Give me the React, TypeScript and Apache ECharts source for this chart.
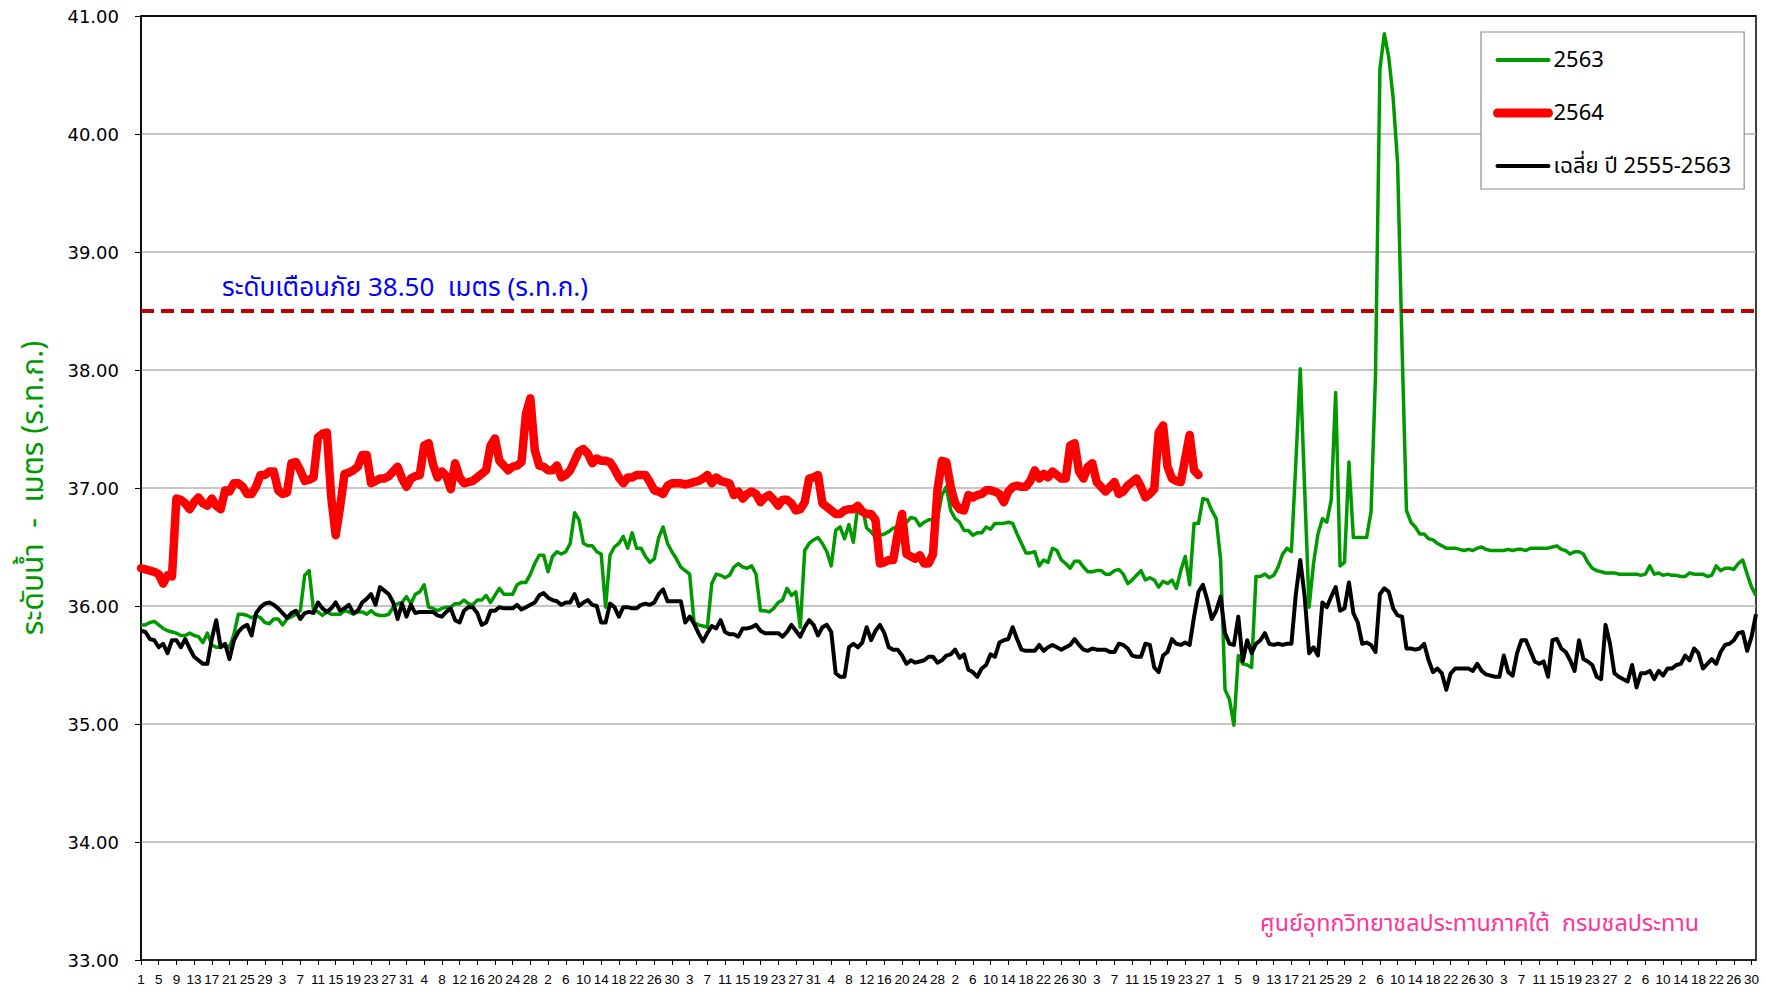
import React, { useEffect, useRef } from "react";
import * as echarts from "echarts";

// Month lengths, April to March (water year), used for the day-of-month tick labels
const monthDays = [30, 31, 30, 31, 31, 30, 31, 30, 31, 31, 29, 31];
const categories: string[] = monthDays.flatMap((n) =>
  Array.from({ length: n }, (_, i) => String(i + 1))
);

const yTicks = [33, 34, 35, 36, 37, 38, 39, 40, 41];
const warningLevel = 38.5;

// 2563 (green)
const level2563 = [
  35.84,35.84,35.86,35.87,35.84,35.81,35.79,35.78,35.77,35.75,
  35.75,35.77,35.75,35.74,35.69,35.77,35.67,35.65,35.65,35.67,
  35.65,35.76,35.93,35.93,35.92,35.90,35.92,35.90,35.86,35.85,
  35.89,35.89,35.84,35.89,35.91,35.93,35.96,36.26,36.30,35.96,
  35.95,35.92,35.95,35.93,35.93,35.93,35.96,35.95,35.93,35.95,
  35.95,35.93,35.96,35.93,35.92,35.92,35.93,35.99,36.02,36.03,
  36.08,36.02,36.10,36.12,36.18,35.99,35.98,35.96,35.98,35.99,
  35.99,36.02,36.02,36.05,36.02,36.01,36.05,36.05,36.09,36.03,
  36.09,36.15,36.10,36.10,36.10,36.18,36.20,36.20,36.27,36.36,
  36.43,36.43,36.29,36.42,36.46,36.44,36.46,36.53,36.79,36.73,
  36.53,36.51,36.51,36.46,36.44,35.99,36.43,36.50,36.53,36.59,
  36.49,36.62,36.49,36.49,36.42,36.37,36.40,36.58,36.67,36.53,
  36.46,36.40,36.33,36.30,36.27,35.86,35.84,35.83,35.82,36.19,
  36.27,36.26,36.24,36.26,36.33,36.36,36.33,36.32,36.34,36.27,
  35.96,35.96,35.95,35.98,36.03,36.05,36.15,36.09,36.12,35.82,
  36.47,36.53,36.56,36.58,36.53,36.46,36.34,36.64,36.67,36.57,
  36.69,36.54,36.85,36.84,36.66,36.63,36.58,36.60,36.61,36.63,
  36.66,36.67,36.70,36.71,36.75,36.74,36.68,36.71,36.73,36.73,
  36.74,36.94,37.01,36.81,36.74,36.71,36.64,36.64,36.60,36.62,
  36.62,36.67,36.65,36.70,36.70,36.70,36.71,36.70,36.61,36.53,
  36.45,36.45,36.46,36.34,36.39,36.37,36.49,36.47,36.39,36.36,
  36.32,36.38,36.38,36.33,36.29,36.29,36.30,36.30,36.27,36.27,
  36.30,36.31,36.27,36.19,36.22,36.26,36.30,36.22,36.24,36.22,
  36.16,36.21,36.19,36.22,36.15,36.30,36.42,36.18,36.70,36.70,
  36.91,36.90,36.81,36.74,36.39,35.29,35.21,34.99,35.58,35.51,
  35.50,35.48,36.25,36.25,36.27,36.24,36.26,36.33,36.44,36.49,
  36.46,37.21,38.01,36.98,35.99,36.36,36.61,36.74,36.71,36.90,
  37.81,36.34,36.37,37.22,36.58,36.58,36.58,36.58,36.80,37.95,
  40.55,40.85,40.65,40.30,39.75,38.20,36.81,36.71,36.67,36.61,
  36.61,36.57,36.56,36.53,36.51,36.49,36.49,36.49,36.48,36.47,
  36.48,36.47,36.49,36.50,36.48,36.47,36.47,36.47,36.47,36.48,
  36.47,36.48,36.48,36.47,36.49,36.49,36.49,36.49,36.49,36.50,
  36.51,36.48,36.47,36.44,36.46,36.46,36.44,36.37,36.32,36.30,
  36.29,36.28,36.28,36.28,36.27,36.27,36.27,36.27,36.27,36.26,
  36.27,36.34,36.27,36.28,36.26,36.27,36.26,36.26,36.25,36.25,
  36.28,36.27,36.27,36.27,36.25,36.26,36.34,36.30,36.32,36.32,
  36.31,36.36,36.39,36.27,36.16,36.09,
];

// 2564 (red, partial year)
const level2564 = [
  36.32,36.31,36.30,36.29,36.27,36.19,36.26,36.25,36.91,36.90,
  36.87,36.82,36.88,36.92,36.87,36.85,36.91,36.85,36.82,36.98,
  36.97,37.04,37.04,37.01,36.95,36.95,37.01,37.11,37.11,37.14,
  37.14,36.98,36.95,36.96,37.21,37.22,37.15,37.06,37.07,37.09,
  37.43,37.46,37.47,36.92,36.60,36.84,37.12,37.13,37.15,37.18,
  37.28,37.28,37.04,37.06,37.08,37.08,37.10,37.14,37.18,37.08,
  37.01,37.08,37.10,37.11,37.36,37.38,37.20,37.09,37.14,37.10,
  36.99,37.21,37.09,37.04,37.05,37.06,37.09,37.12,37.15,37.36,
  37.42,37.23,37.19,37.15,37.18,37.19,37.22,37.63,37.76,37.32,
  37.19,37.18,37.15,37.15,37.19,37.09,37.11,37.15,37.23,37.31,
  37.33,37.29,37.21,37.25,37.23,37.23,37.22,37.16,37.09,37.04,
  37.09,37.09,37.11,37.11,37.11,37.05,36.98,36.97,36.95,37.02,
  37.04,37.04,37.04,37.03,37.04,37.05,37.06,37.08,37.11,37.04,
  37.09,37.06,37.05,37.04,36.94,36.97,36.91,36.95,36.97,36.95,
  36.88,36.92,36.94,36.90,36.85,36.90,36.90,36.87,36.81,36.82,
  36.88,37.08,37.09,37.11,36.87,36.84,36.81,36.78,36.78,36.81,
  36.82,36.82,36.85,36.80,36.78,36.78,36.73,36.36,36.37,36.39,
  36.39,36.61,36.78,36.44,36.42,36.40,36.43,36.36,36.36,36.44,
  36.98,37.23,37.22,37.01,36.87,36.82,36.81,36.94,36.92,36.94,
  36.95,36.98,36.98,36.97,36.95,36.88,36.97,37.01,37.02,37.01,
  37.01,37.06,37.15,37.08,37.12,37.09,37.14,37.11,37.08,37.08,
  37.36,37.38,37.14,37.08,37.18,37.21,37.05,37.01,36.97,37.01,
  37.05,36.95,36.97,37.02,37.05,37.08,37.01,36.92,36.95,36.99,
  37.47,37.53,37.18,37.08,37.06,37.05,37.25,37.45,37.15,37.11,
];

// Average 2555-2563 (black)
const levelAvg = [
  35.79,35.78,35.72,35.71,35.65,35.68,35.60,35.71,35.71,35.65,
  35.72,35.64,35.57,35.54,35.51,35.51,35.72,35.88,35.65,35.68,
  35.55,35.71,35.78,35.82,35.84,35.75,35.94,35.99,36.02,36.03,
  36.01,35.98,35.94,35.90,35.94,35.96,35.89,35.94,35.95,35.94,
  36.03,35.98,35.95,35.98,36.03,35.96,35.98,36.01,35.94,35.96,
  36.03,36.06,36.10,36.01,36.16,36.13,36.10,36.03,35.89,36.02,
  35.91,36.01,35.94,35.95,35.95,35.95,35.95,35.92,35.91,35.95,
  35.98,35.88,35.86,35.96,35.99,35.99,35.94,35.84,35.86,35.96,
  35.96,35.99,35.98,35.98,35.98,36.01,35.97,35.99,36.01,36.03,
  36.09,36.11,36.07,36.05,36.04,36.01,36.03,36.03,36.10,36.00,
  36.03,36.05,36.01,36.00,35.86,35.86,36.02,35.99,35.91,35.99,
  35.99,35.98,35.98,36.01,36.02,36.01,36.03,36.10,36.14,36.04,
  36.04,36.04,36.04,35.86,35.91,35.85,35.77,35.70,35.77,35.83,
  35.81,35.88,35.78,35.76,35.76,35.74,35.81,35.81,35.82,35.84,
  35.79,35.77,35.77,35.77,35.77,35.74,35.78,35.84,35.79,35.74,
  35.82,35.88,35.84,35.75,35.82,35.84,35.78,35.43,35.40,35.40,
  35.65,35.68,35.65,35.69,35.82,35.71,35.79,35.84,35.77,35.65,
  35.63,35.63,35.58,35.51,35.54,35.52,35.53,35.54,35.57,35.57,
  35.52,35.54,35.58,35.59,35.63,35.56,35.59,35.46,35.44,35.40,
  35.47,35.50,35.59,35.57,35.69,35.71,35.72,35.82,35.72,35.63,
  35.62,35.62,35.62,35.67,35.62,35.65,35.67,35.65,35.63,35.65,
  35.67,35.72,35.67,35.63,35.62,35.64,35.63,35.63,35.63,35.61,
  35.61,35.68,35.67,35.64,35.58,35.57,35.57,35.68,35.67,35.48,
  35.44,35.58,35.61,35.72,35.68,35.67,35.69,35.67,35.91,36.12,
  36.18,36.05,35.89,35.96,36.08,35.77,35.68,35.67,35.91,35.53,
  35.71,35.60,35.68,35.71,35.77,35.68,35.67,35.68,35.67,35.68,
  35.68,36.10,36.39,36.08,35.60,35.65,35.58,36.03,35.99,36.08,
  36.16,35.96,35.98,36.20,35.94,35.86,35.68,35.69,35.67,35.61,
  36.10,36.15,36.12,35.98,35.92,35.91,35.64,35.64,35.63,35.64,
  35.68,35.54,35.44,35.47,35.43,35.29,35.43,35.47,35.47,35.47,
  35.47,35.45,35.51,35.45,35.42,35.41,35.40,35.40,35.58,35.44,
  35.41,35.60,35.71,35.71,35.62,35.53,35.51,35.53,35.40,35.71,
  35.72,35.64,35.61,35.54,35.45,35.71,35.55,35.53,35.50,35.40,
  35.38,35.84,35.68,35.43,35.40,35.38,35.36,35.50,35.31,35.43,
  35.43,35.45,35.38,35.45,35.41,35.47,35.47,35.50,35.51,35.58,
  35.54,35.64,35.60,35.47,35.51,35.55,35.51,35.61,35.67,35.68,
  35.71,35.77,35.78,35.62,35.74,35.93,
];

const seriesNames = ["2563", "2564", "เฉลี่ย ปี 2555-2563"];
const yAxisTitle = "ระดับน้ำ  -  เมตร (ร.ท.ก.)";
const warningText = "ระดับเตือนภัย 38.50  เมตร (ร.ท.ก.)";
const creditText = "ศูนย์อุทกวิทยาชลประทานภาคใต้  กรมชลประทาน";

const thaiFont = "Tahoma, 'Noto Sans Thai', 'Noto Sans', 'DejaVu Sans', sans-serif";

const hiddenSymbol = { color: "transparent", borderColor: "transparent", borderWidth: 0, opacity: 0 };

export default function App() {
  const ref = useRef<HTMLDivElement>(null);

  useEffect(() => {
    document.body.style.margin = "0";
    if (!ref.current) return;
    const chart = echarts.init(ref.current, undefined, { renderer: "svg" });

    const splitColors = yTicks.map((v, i) =>
      i === yTicks.length - 1 ? "#000000" : "#b3b3b3"
    );

    chart.setOption({
      animation: false,
      backgroundColor: "#ffffff",
      grid: {
        left: 141,
        right: 10,
        top: 16,
        bottom: 31,
        show: true,
        borderColor: "#000000",
        borderWidth: 1.5,
        backgroundColor: "transparent",
      },
      legend: {
        orient: "vertical",
        left: 1481,
        top: 32,
        padding: [16, 13, 11, 12],
        itemWidth: 51,
        itemHeight: 14,
        itemGap: 29,
        backgroundColor: "#ffffff",
        borderColor: "#8c8c8c",
        borderWidth: 1.2,
        selectedMode: false,
        itemStyle: hiddenSymbol,
        textStyle: { fontSize: 22, color: "#000", fontFamily: thaiFont, lineHeight: 24 },
        data: [
          { name: seriesNames[0], itemStyle: hiddenSymbol, lineStyle: { width: 4, cap: "round" } },
          { name: seriesNames[1], itemStyle: hiddenSymbol, lineStyle: { width: 9, cap: "round" } },
          { name: seriesNames[2], itemStyle: hiddenSymbol, lineStyle: { width: 4, cap: "round" } },
        ],
      },
      xAxis: {
        type: "category",
        data: categories,
        boundaryGap: false,
        axisLine: { show: true, lineStyle: { color: "#000", width: 1.5 } },
        axisTick: { show: true, interval: 3, length: 5, lineStyle: { color: "#000", width: 1 } },
        axisLabel: {
          interval: 3,
          margin: 12,
          fontSize: 13.5,
          color: "#000",
          fontFamily: "'Liberation Sans', Arial, sans-serif",
        },
        splitLine: { show: false },
      },
      yAxis: {
        type: "value",
        min: 33,
        max: 41,
        interval: 1,
        name: yAxisTitle,
        nameLocation: "middle",
        nameGap: 92,
        nameTextStyle: { color: "#009900", fontSize: 30, fontFamily: thaiFont },
        axisLine: { show: true, lineStyle: { color: "#000", width: 1.5 } },
        axisTick: { show: true, length: 6, lineStyle: { color: "#000", width: 1 } },
        axisLabel: {
          margin: 22,
          fontSize: 18,
          color: "#000",
          fontFamily: "'DejaVu Sans', Verdana, sans-serif",
          formatter: (v: number) => v.toFixed(2),
        },
        splitLine: { show: true, lineStyle: { color: splitColors, width: 1.5 } },
      },
      series: [
        {
          name: seriesNames[0],
          type: "line",
          data: level2563,
          symbol: "none",
          lineStyle: { color: "#009900", width: 3.5, join: "round" },
          itemStyle: { color: "#009900" },
          z: 2,
          markLine: {
            silent: true,
            symbol: "none",
            label: { show: false },
            lineStyle: { color: "#c00000", type: [13, 7], width: 4 },
            data: [{ yAxis: warningLevel }],
          },
        },
        {
          name: seriesNames[1],
          type: "line",
          data: level2564,
          symbol: "none",
          lineStyle: { color: "#ff0000", width: 8.5, cap: "round", join: "round" },
          itemStyle: { color: "#ff0000" },
          z: 3,
        },
        {
          name: seriesNames[2],
          type: "line",
          data: levelAvg,
          symbol: "none",
          lineStyle: { color: "#000000", width: 4, join: "round" },
          itemStyle: { color: "#000000" },
          z: 4,
        },
      ],
      graphic: [
        {
          type: "text",
          left: 222,
          top: 275,
          silent: true,
          style: {
            text: warningText,
            fill: "#0000ff",
            fontSize: 26,
            fontFamily: thaiFont,
          },
        },
        {
          type: "text",
          right: 67,
          top: 912,
          silent: true,
          style: {
            text: creditText,
            fill: "#ff3399",
            fontSize: 23.3,
            fontFamily: thaiFont,
          },
        },
      ],
    });

    return () => chart.dispose();
  }, []);

  return (
    <div
      ref={ref}
      style={{ position: "absolute", left: 0, top: 0, width: 1766, height: 991, background: "#fff" }}
    />
  );
}
